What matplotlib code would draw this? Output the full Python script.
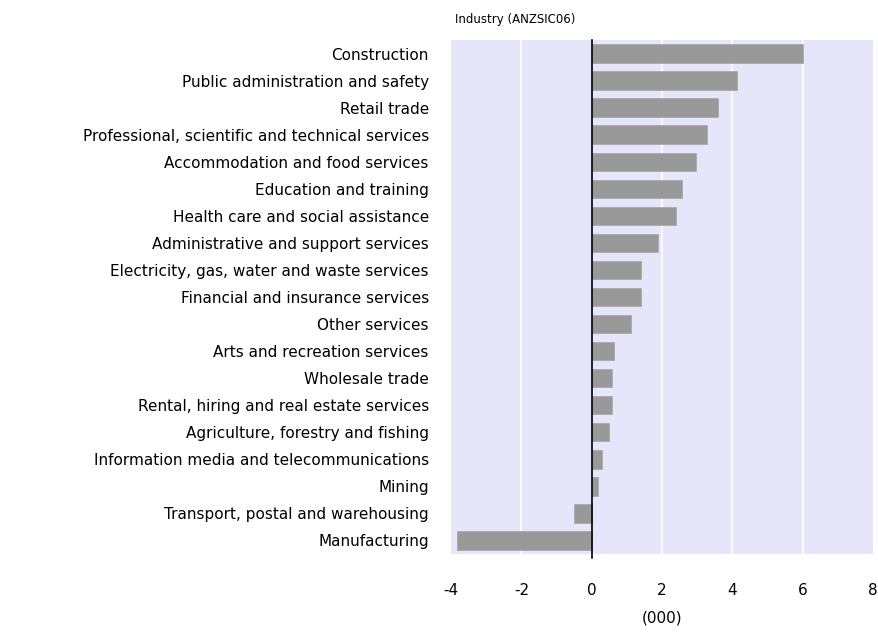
import matplotlib
matplotlib.use("Agg")
import matplotlib.pyplot as plt
import numpy as np

# industries, top to bottom
industries = [
    "Construction",
    "Public administration and safety",
    "Retail trade",
    "Professional, scientific and technical services",
    "Accommodation and food services",
    "Education and training",
    "Health care and social assistance",
    "Administrative and support services",
    "Electricity, gas, water and waste services",
    "Financial and insurance services",
    "Other services",
    "Arts and recreation services",
    "Wholesale trade",
    "Rental, hiring and real estate services",
    "Agriculture, forestry and fishing",
    "Information media and telecommunications",
    "Mining",
    "Transport, postal and warehousing",
    "Manufacturing",
]
change = [6.0, 4.12, 3.6, 3.27, 2.98, 2.56, 2.41, 1.9, 1.39, 1.39,
          1.11, 0.64, 0.59, 0.59, 0.48, 0.3, 0.19, -0.49, -3.84]
xticks = [-4, -2, 0, 2, 4, 6, 8]

plt.rcParams['font.family'] = ['DejaVu Sans']

fig = plt.figure(figsize=(8.79, 6.33), dpi=100)
ax = fig.add_axes([451/879, 1 - 554/633, 422/879, 514/633])
ax.set_facecolor('#E6E6FA')

y = np.arange(len(industries))
ax.barh(y, change, height=0.68, color='#999999', edgecolor='#AAAAAA',
        linewidth=0.6, zorder=3)
ax.set_ylim(len(industries) - 0.5, -0.5)
ax.set_xlim(-4, 8)

ax.set_yticks(y)
ax.set_yticklabels(industries, fontsize=11)
ax.set_xticks(xticks)
ax.set_xticklabels([str(t) for t in xticks], fontsize=11)
ax.tick_params(axis='both', length=0)
ax.tick_params(axis='y', pad=16)
ax.tick_params(axis='x', pad=21)

for t in xticks[1:-1]:
    if t != 0:
        ax.axvline(t, color='white', linewidth=1.2, zorder=1)
ax.plot([0, 0], [-0.5, len(industries) - 0.35], color='black', linewidth=1.2,
        zorder=4, clip_on=False)

for s in ax.spines.values():
    s.set_visible(False)

ax.set_xlabel('(000)', fontsize=11, labelpad=9)
fig.text(455/879, 1 - 19/633, 'Industry (ANZSIC06)', fontsize=8.5,
         ha='left', va='center')

fig.savefig('out.png', dpi=100)
